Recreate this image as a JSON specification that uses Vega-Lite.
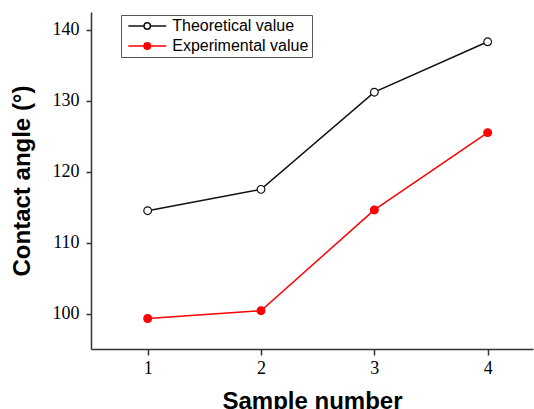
{
  "$schema": "https://vega.github.io/schema/vega-lite/v6.json",
  "width": 442,
  "height": 337,
  "autosize": "none",
  "padding": {"left": 91, "top": 12, "right": 1, "bottom": 60},
  "background": "white",
  "config": {"view": {"stroke": null}},
  "data": {
    "values": [
      {"sample": 1, "angle": 114.5, "series": "Theoretical value"},
      {"sample": 2, "angle": 117.5, "series": "Theoretical value"},
      {"sample": 3, "angle": 131.2, "series": "Theoretical value"},
      {"sample": 4, "angle": 138.3, "series": "Theoretical value"},
      {"sample": 1, "angle": 99.3, "series": "Experimental value"},
      {"sample": 2, "angle": 100.4, "series": "Experimental value"},
      {"sample": 3, "angle": 114.6, "series": "Experimental value"},
      {"sample": 4, "angle": 125.5, "series": "Experimental value"}
    ]
  },
  "encoding": {
    "x": {
      "field": "sample",
      "type": "quantitative",
      "scale": {"domain": [0.5, 4.4], "nice": false, "zero": false},
      "axis": {
        "title": "Sample number",
        "values": [1, 2, 3, 4],
        "format": "d",
        "grid": false,
        "tickSize": 6,
        "labelPadding": 4,
        "titlePadding": 12,
        "domainColor": "#333",
        "tickColor": "#333",
        "domainWidth": 1.5,
        "tickWidth": 1.5,
        "labelFont": "Liberation Serif",
        "labelFontSize": 18,
        "labelColor": "black",
        "titleFont": "Liberation Sans",
        "titleFontSize": 24,
        "titleFontWeight": "bold",
        "titleColor": "black"
      }
    },
    "y": {
      "field": "angle",
      "type": "quantitative",
      "scale": {"domain": [95, 142.5], "nice": false, "zero": false},
      "axis": {
        "title": "Contact angle (°)",
        "values": [100, 110, 120, 130, 140],
        "grid": false,
        "tickSize": 5,
        "labelPadding": 7,
        "titlePadding": 18,
        "domainColor": "#333",
        "tickColor": "#333",
        "domainWidth": 1.5,
        "tickWidth": 1.5,
        "labelFont": "Liberation Serif",
        "labelFontSize": 18,
        "labelColor": "black",
        "titleFont": "Liberation Sans",
        "titleFontSize": 24,
        "titleFontWeight": "bold",
        "titleColor": "black"
      }
    }
  },
  "layer": [
    {
      "mark": {"type": "line", "strokeWidth": 1.5},
      "encoding": {
        "stroke": {
          "field": "series",
          "type": "nominal",
          "scale": {"domain": ["Theoretical value", "Experimental value"], "range": ["#111111", "#ff0000"]},
          "legend": {
            "title": null,
            "orient": "none",
            "legendX": 30,
            "legendY": 3,
            "padding": 3,
            "strokeColor": "#555",
            "fillColor": "white",
            "symbolType": "M-2.71,0H-0.457M0.457,0H2.71M0.457,0A0.457,0.457 0 1,1 -0.457,0A0.457,0.457 0 1,1 0.457,0",
            "symbolSize": 196,
            "symbolStrokeWidth": 1.5,
            "symbolOpacity": 1,
            "symbolOffset": 15.25,
            "labelFont": "Liberation Sans",
            "labelFontSize": 16,
            "labelColor": "black",
            "labelOffset": 17,
            "rowPadding": 4
          }
        }
      }
    },
    {
      "mark": {"type": "point", "filled": true, "size": 60, "strokeWidth": 1.2, "opacity": 1},
      "encoding": {
        "stroke": {
          "field": "series",
          "type": "nominal",
          "scale": {"domain": ["Theoretical value", "Experimental value"], "range": ["#111111", "#ff0000"]},
          "legend": {
            "title": null,
            "orient": "none",
            "legendX": 30,
            "legendY": 3,
            "padding": 3,
            "strokeColor": "#555",
            "fillColor": "white",
            "symbolType": "M-2.71,0H-0.457M0.457,0H2.71M0.457,0A0.457,0.457 0 1,1 -0.457,0A0.457,0.457 0 1,1 0.457,0",
            "symbolSize": 196,
            "symbolStrokeWidth": 1.5,
            "symbolOpacity": 1,
            "symbolOffset": 15.25,
            "labelFont": "Liberation Sans",
            "labelFontSize": 16,
            "labelColor": "black",
            "labelOffset": 17,
            "rowPadding": 4
          }
        },
        "fill": {
          "field": "series",
          "type": "nominal",
          "scale": {"domain": ["Theoretical value", "Experimental value"], "range": ["#ffffff", "#ff0000"]},
          "legend": {
            "title": null,
            "orient": "none",
            "legendX": 30,
            "legendY": 3,
            "padding": 3,
            "strokeColor": "#555",
            "fillColor": "white",
            "symbolType": "M-2.71,0H-0.457M0.457,0H2.71M0.457,0A0.457,0.457 0 1,1 -0.457,0A0.457,0.457 0 1,1 0.457,0",
            "symbolSize": 196,
            "symbolStrokeWidth": 1.5,
            "symbolOpacity": 1,
            "symbolOffset": 15.25,
            "labelFont": "Liberation Sans",
            "labelFontSize": 16,
            "labelColor": "black",
            "labelOffset": 17,
            "rowPadding": 4
          }
        }
      }
    }
  ]
}
